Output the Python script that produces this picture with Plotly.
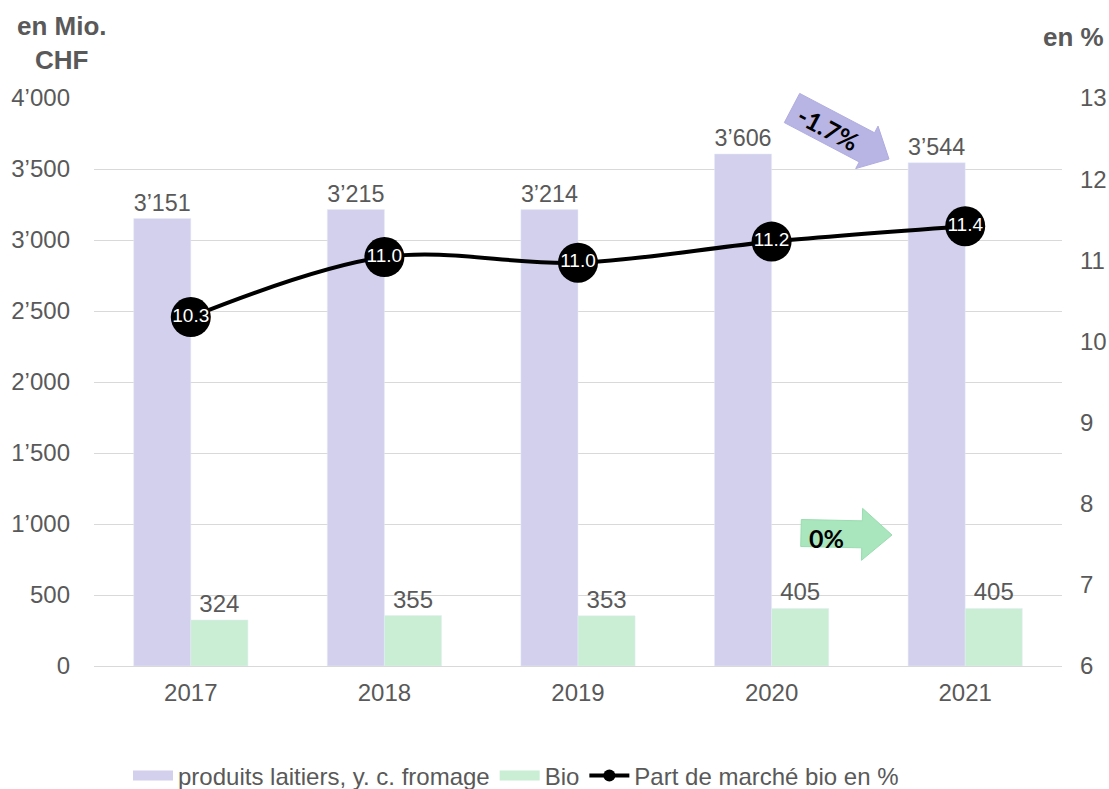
import math
import plotly.graph_objects as go

years = ["2017", "2018", "2019", "2020", "2021"]
dairy = [3151, 3215, 3214, 3606, 3544]
bio = [324, 355, 353, 405, 405]
share = [10.3, 11.04, 10.97, 11.23, 11.42]

names = ["produits laitiers, y. c. fromage", "Bio", "Part de marché bio en %"]
PURPLE, GREEN = "#D3D0EE", "#C9EED4"

W, H = 1109, 789
L, R, T, B = 94, 1062, 98, 666
PW, PH = R - L, B - T

def px(x, y):
    return ((x - L) / PW, (B - y) / PH)

def arrow_path(tail, tip, shaft_hw, head_hw, head_len):
    tx, ty = tail
    hx, hy = tip
    dx, dy = hx - tx, hy - ty
    ln = math.hypot(dx, dy)
    ux, uy = dx / ln, dy / ln
    nx, ny = -uy, ux
    bx, by = hx - ux * head_len, hy - uy * head_len
    pts = [
        (tx + nx * shaft_hw, ty + ny * shaft_hw),
        (bx + nx * shaft_hw, by + ny * shaft_hw),
        (bx + nx * head_hw, by + ny * head_hw),
        (hx, hy),
        (bx - nx * head_hw, by - ny * head_hw),
        (bx - nx * shaft_hw, by - ny * shaft_hw),
        (tx - nx * shaft_hw, ty - ny * shaft_hw),
    ]
    s = ""
    for i, (x, y) in enumerate(pts):
        a, b = px(x, y)
        s += ("M" if i == 0 else "L") + f"{a:.5f},{b:.5f} "
    return s + "Z"

GRAY = "#595959"
FONT = "Liberation Sans, Arial, sans-serif"
FS = 24

fig = go.Figure()
fig.add_trace(go.Bar(
    x=years, y=dairy, name=names[0], showlegend=False,
    marker_color=PURPLE, texttemplate="%{y:,}", textposition="outside",
    textfont=dict(size=FS, color=GRAY), cliponaxis=False,
))
fig.add_trace(go.Bar(
    x=years, y=bio, name=names[1], showlegend=False,
    marker_color=GREEN, texttemplate="%{y:,}", textposition="outside",
    textfont=dict(size=FS, color=GRAY), cliponaxis=False,
))
fig.add_trace(go.Scatter(
    x=years, y=share, name=names[2], yaxis="y2", showlegend=False,
    mode="lines+markers+text", line=dict(color="black", width=4, shape="spline", smoothing=1),
    marker=dict(color="black", size=40, line=dict(width=0)),
    text=[f"{v:.1f}" for v in share], textposition="middle center",
    textfont=dict(size=19, color="white", family=FONT), cliponaxis=False,
))
# legend entries
fig.add_trace(go.Scatter(x=[None], y=[None], mode="lines", name=names[0],
                         line=dict(color=PURPLE, width=17)))
fig.add_trace(go.Scatter(x=[None], y=[None], mode="lines", name=names[1],
                         line=dict(color=GREEN, width=17)))
fig.add_trace(go.Scatter(x=[None], y=[None], mode="lines+markers", name=names[2],
                         line=dict(color="black", width=4),
                         marker=dict(color="black", size=12, symbol="circle")))

shapes = [
    dict(type="path", xref="paper", yref="paper", layer="above",
         path=arrow_path((792, 108), (889, 159), 16.5, 24, 25),
         fillcolor="#B8B5E4", line=dict(color="#B0ADE0", width=1)),
    dict(type="path", xref="paper", yref="paper", layer="above",
         path=arrow_path((801, 533), (892, 535), 13.5, 26, 30),
         fillcolor="#A9E5BD", line=dict(color="#9ADDB0", width=1)),
]

ax, ay = px(828, 128)
gx, gy = px(826, 538)
t1x, t1y = px(62, 43)
t2x, t2y = px(1073, 37)
annotations = [
    dict(x=ax, y=ay, text="<b>-1.7%</b>", textangle=28,
         font=dict(size=25, color="black", family="Lato, sans-serif")),
    dict(x=gx, y=gy, text="<b>0%</b>",
         font=dict(size=25, color="black", family="Lato, sans-serif")),
    dict(x=t1x, y=t1y, text="<b>en Mio.<br>CHF</b>",
         font=dict(size=26, color=GRAY, family=FONT)),
    dict(x=t2x, y=t2y, text="<b>en %</b>",
         font=dict(size=26, color=GRAY, family=FONT)),
]
for a in annotations:
    a.update(xref="paper", yref="paper", showarrow=False, xanchor="center", yanchor="middle")

fig.update_layout(
    width=W, height=H,
    margin=dict(l=L, r=W - R, t=T, b=H - B, autoexpand=False),
    paper_bgcolor="white", plot_bgcolor="white",
    separators=".’",
    barmode="group", bargap=0.41, bargroupgap=0,
    font=dict(family=FONT, size=FS, color=GRAY),
    xaxis=dict(showline=True, linecolor="#D9D9D9", linewidth=1, ticks="",
               ticklabelstandoff=5,
               tickfont=dict(size=FS, color=GRAY), automargin=False),
    yaxis=dict(range=[0, 4000], dtick=500, tickformat=",", showgrid=True,
               gridcolor="#D9D9D9", gridwidth=1, zeroline=False, automargin=False,
               ticklabelstandoff=23, tickfont=dict(size=FS, color=GRAY)),
    yaxis2=dict(range=[6, 13], dtick=1, overlaying="y", side="right",
                showgrid=False, zeroline=False, ticklabelstandoff=17, automargin=False,
                tickfont=dict(size=FS, color=GRAY)),
    legend=dict(orientation="h", x=516 / W, xanchor="center", xref="container",
                y=(H - 776) / H, yref="container", yanchor="middle",
                font=dict(size=FS, color=GRAY), traceorder="normal",
                itemwidth=40, tracegroupgap=0),
    shapes=shapes, annotations=annotations,
)

fig.write_html("out.html", config={"displayModeBar": False},
               post_script="document.body.style.margin='0';document.documentElement.style.overflow='hidden';")
